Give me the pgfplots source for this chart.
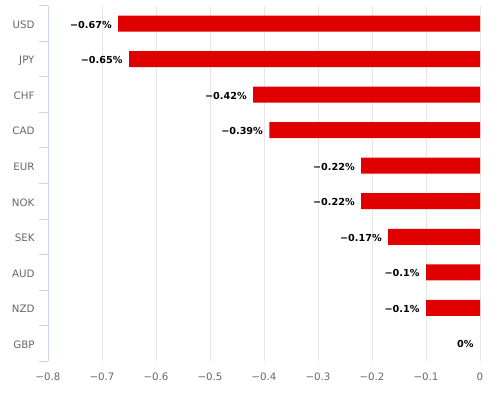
\documentclass[border=0pt]{standalone}
\usepackage{pgfplots}
\pgfplotsset{compat=1.18}
\usepackage{fontspec}
\setmainfont{DejaVu Sans}
\definecolor{barred}{HTML}{E10000}
\definecolor{axisblue}{HTML}{CCD6EB}
\definecolor{gridgray}{HTML}{E6E6E6}
\definecolor{labgray}{HTML}{666666}
\begin{document}
\begin{tikzpicture}
\useasboundingbox (-48bp,-34bp) rectangle (450bp,361bp);
\begin{axis}[
  scale only axis,
  width=432bp, height=355bp,
  xmin=-0.8, xmax=0, ymin=-0.5, ymax=9.5,
  y dir=reverse,
  enlargelimits=false,
  clip=false,
  axis lines*=left,
  axis line style={-},
  x axis line style={draw=none},
  y axis line style={draw=axisblue, line width=1bp},
  xtick={-0.8,-0.7,-0.6,-0.5,-0.4,-0.3,-0.2,-0.1,0},
  xticklabels={−0.8,−0.7,−0.6,−0.5,−0.4,−0.3,−0.2,−0.1,0},
  ytick={0,...,9},
  yticklabels={USD,JPY,CHF,CAD,EUR,NOK,SEK,AUD,NZD,GBP},
  minor ytick={-0.5,0.5,...,9.5},
  tick align=outside,
  major tick length=0pt,
  minor tick length=9bp,
  minor tick style={draw=axisblue, line width=1bp},
  xmajorgrids,
  major grid style={draw=gridgray, line width=1bp},
  xticklabel style={font=\fontsize{10.3}{12}\selectfont, text=labgray, yshift=-8bp},
  yticklabel style={font=\fontsize{10.3}{12}\selectfont, text=labgray, xshift=-10bp,
    text height=7.5bp, text depth=0pt, yshift=-1bp},
]
\addplot[xbar, fill=barred, draw=none, bar width=16bp,
  point meta=explicit symbolic,
  nodes near coords,
  nodes near coords align={anchor=east},
  every node near coord/.append style={anchor=east, xshift=-3bp, text=black,
    text height=7.2bp, text depth=0pt, yshift=-1bp,
    font=\bfseries\fontsize{9.7}{11}\selectfont},
] coordinates {
  (-0.67,0) [{−0.67\%}]
  (-0.65,1) [{−0.65\%}]
  (-0.42,2) [{−0.42\%}]
  (-0.39,3) [{−0.39\%}]
  (-0.22,4) [{−0.22\%}]
  (-0.22,5) [{−0.22\%}]
  (-0.17,6) [{−0.17\%}]
  (-0.10,7) [{−0.1\%}]
  (-0.10,8) [{−0.1\%}]
};
\addplot[xbar, fill=none, draw=none, bar width=16bp,
  point meta=explicit symbolic,
  nodes near coords,
  nodes near coords align={anchor=east},
  every node near coord/.append style={anchor=east, xshift=-3bp, text=black,
    text height=7.2bp, text depth=0pt, yshift=-1bp,
    font=\bfseries\fontsize{9.7}{11}\selectfont},
] coordinates {
  (0,9) [{0\%}]
};
\end{axis}
\end{tikzpicture}
\end{document}
